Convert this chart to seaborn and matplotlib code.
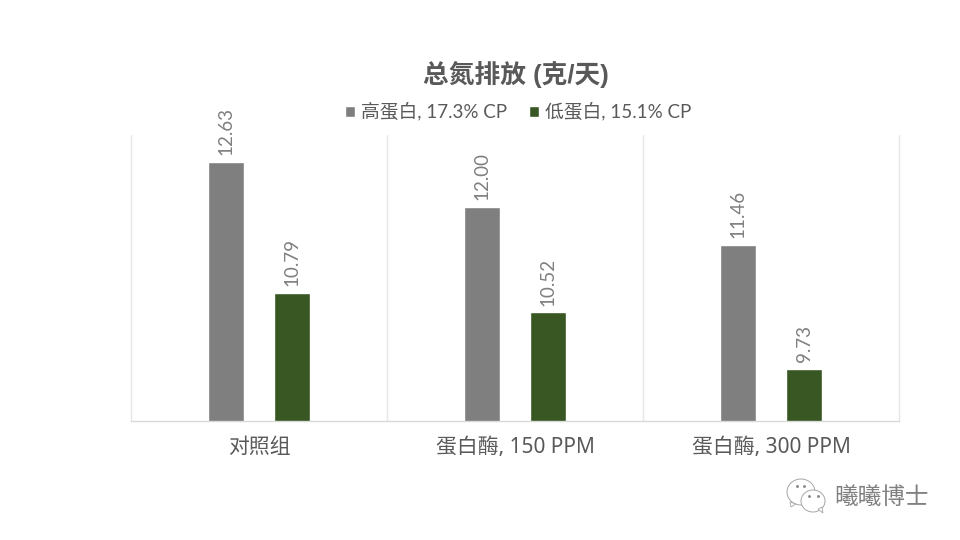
import matplotlib
matplotlib.use("Agg")
import matplotlib.pyplot as plt
from matplotlib.patches import Ellipse, Polygon
import pandas as pd
import seaborn as sns

categories = ["对照组", "蛋白酶, 150 PPM", "蛋白酶, 300 PPM"]
series_names = ["高蛋白, 17.3% CP", "低蛋白, 15.1% CP"]
high_values = [12.63, 12.00, 11.46]
low_values = [10.79, 10.52, 9.73]
colors = ["#7f7f7f", "#385723"]

sns.set_theme(style="white")
FONT = ["Lato", "Noto Sans CJK SC", "DejaVu Sans"]
plt.rcParams["font.family"] = FONT
plt.rcParams["axes.unicode_minus"] = False

df = pd.DataFrame({
    "cat": categories * 2,
    "series": [series_names[0]] * 3 + [series_names[1]] * 3,
    "value": high_values + low_values,
})

W, H = 960, 540
fig = plt.figure(figsize=(9.6, 5.4), dpi=100, facecolor="white")
ax = fig.add_axes([131 / W, 1 - 421 / H, 768 / W, 285.6 / H])

sns.barplot(data=df, x="cat", y="value", hue="series", palette=colors,
            width=0.516, gap=0.455, dodge=True, saturation=1, ax=ax,
            legend=True)
ax.set_ylim(9, 13)
ax.set_xlim(-0.5, 2.5)
ax.set_xlabel("")
ax.set_ylabel("")
ax.set_yticks([])
for s in ["top", "left", "right"]:
    ax.spines[s].set_visible(False)
ax.spines["bottom"].set_color("#d9d9d9")
ax.spines["bottom"].set_linewidth(1)
ax.tick_params(axis="x", length=0, pad=11.5, labelsize=15, labelcolor="#595959")
for lab in ax.get_xticklabels():
    lab.set_fontfamily(["Noto Sans", "Noto Sans CJK SC"])
for x in [0.5, 1.5, 2.5, -0.5]:
    ax.axvline(x, color="#e6e6e6", lw=1, zorder=0, clip_on=False)

for cont in ax.containers:
    ax.bar_label(cont, fmt="%.2f", rotation=90, padding=5, fontsize=13.5,
                 color="#7f7f7f")

handles, labels = ax.get_legend_handles_labels()
ax.legend_.remove()
fig.legend(handles, labels, loc="center", bbox_to_anchor=(518 / W, 1 - 111.5 / H),
           ncol=2, frameon=False, fontsize=13.5, labelcolor="#595959",
           handlelength=0.55, handleheight=0.55, handletextpad=0.3,
           columnspacing=1.15, borderpad=0)

fig.text(516 / W, 1 - 75 / H, "总氮排放 (克/天)", ha="center", va="center",
         fontsize=18.5, fontweight="bold", color="#595959",
         family=["Liberation Sans", "Noto Sans CJK SC"])

# WeChat-style watermark
wm = fig.add_axes([0, 0, 1, 1], facecolor="none")
wm.set_xlim(0, W)
wm.set_ylim(H, 0)
wm.axis("off")
for cx, cy, w, h in [(801, 492, 28, 26), (813, 501, 24, 22)]:
    wm.add_patch(Ellipse((cx, cy), w, h, fc="white", ec="#a6a6a6", lw=0.7))
for px, py in [(797, 486), (804, 486), (809, 496), (818, 496)]:
    wm.plot(px, py, "o", ms=1.1, color="#8a8a8a")
wm.add_patch(Polygon([(790, 502), (791, 507), (796, 504)], fc="white", ec="#a6a6a6", lw=0.6))
wm.add_patch(Polygon([(818, 509), (823, 513), (822, 507)], fc="white", ec="#a6a6a6", lw=0.6))
wm.text(881, 497, "曦曦博士", ha="center", va="center", fontsize=17,
        color="#808080", family=["Noto Sans CJK SC"])

fig.savefig("out.png", dpi=100, facecolor="white")
